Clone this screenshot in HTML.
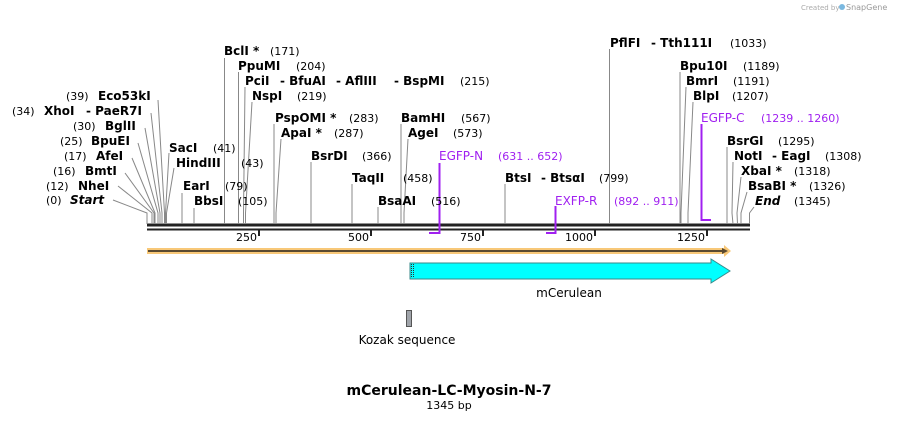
<!DOCTYPE html>
<html><head><meta charset="utf-8"><style>
html,body{margin:0;padding:0;background:#fff;width:898px;height:421px;overflow:hidden}
svg{display:block}
.b{font-family:"DejaVu Sans","Liberation Sans",sans-serif;font-weight:bold;font-size:12px;fill:#000}
.n{font-family:"DejaVu Sans","Liberation Sans",sans-serif;font-size:11px;fill:#000}
.p{font-family:"DejaVu Sans","Liberation Sans",sans-serif;font-size:12px;fill:#a020f0}
.pn{font-family:"DejaVu Sans","Liberation Sans",sans-serif;font-size:11px;fill:#a020f0}
</style></head><body>
<svg width="898" height="421" viewBox="0 0 898 421" xmlns="http://www.w3.org/2000/svg">
<text x="801" y="10" font-family="DejaVu Sans,sans-serif" font-size="7" fill="#aaa">Created by</text>
<text x="846" y="10" font-family="DejaVu Sans,sans-serif" font-size="8" fill="#999">SnapGene</text>
<circle cx="842" cy="7" r="3" fill="#7ab8e0"/>

<rect x="147" y="223.5" width="603" height="3" fill="#222"/>
<rect x="147" y="228.5" width="603" height="2" fill="#222"/>
<g stroke="#222" stroke-width="2">
<line x1="259" y1="229" x2="259" y2="236"/><line x1="371" y1="229" x2="371" y2="236"/>
<line x1="483" y1="229" x2="483" y2="236"/><line x1="595" y1="229" x2="595" y2="236"/>
<line x1="707" y1="229" x2="707" y2="236"/></g>
<g class="n" text-anchor="end">
<text x="257" y="241">250</text><text x="369" y="241">500</text><text x="481" y="241">750</text>
<text x="593" y="241">1000</text><text x="705" y="241">1250</text></g>

<g fill="none" stroke="#888" stroke-width="1">
<polyline points="113,200 147,213 147,224"/>
<polyline points="118,186 152,213 152,224"/>
<polyline points="125,173 154,213 154,224"/>
<polyline points="132,158 155,213 155,224"/>
<polyline points="138,143 158,213 158,224"/>
<polyline points="145,128 160,213 160,224"/>
<polyline points="151,113 162,213 162,224"/>
<polyline points="158,100 164.5,213 164.5,224"/>
<polyline points="169,153 165.5,213 165.5,224"/>
<polyline points="174,168 166.5,213 166.5,224"/>
<polyline points="182,193 182,224"/>
<polyline points="194,208 194,224"/>
<polyline points="224.5,58 224.5,224"/>
<polyline points="238.5,72 238.5,224"/>
<polyline points="245,87 243.5,213 243.5,224"/>
<polyline points="252,102 245.5,213 245.5,224"/>
<polyline points="274,124 274,224"/>
<polyline points="281,139 276,213 276,224"/>
<polyline points="311,162 311,224"/>
<polyline points="352,184 352,224"/>
<polyline points="378,207 378,224"/>
<polyline points="401,124 401,224"/>
<polyline points="408,139 404,213 404,224"/>
<polyline points="505,184 505,224"/>
<polyline points="609.5,49 609.5,224"/>
<polyline points="680,72 680,224"/>
<polyline points="686,87 681,213 681,224"/>
<polyline points="693,102 688,213 688,224"/>
<polyline points="727,147 727,224"/>
<polyline points="733,162 732,213 733,224"/>
<polyline points="741,177 737,213 737.5,224"/>
<polyline points="747,192 741,213 741,224"/>
<polyline points="754,207 749.5,213 749.5,224"/>
</g>
<g fill="none" stroke="#a020f0" stroke-width="2">
<polyline points="439.5,163 439.5,233 429,233"/>
<polyline points="555.5,206 555.5,233 546,233"/>
<polyline points="701.5,124 701.5,220 711,220"/>
</g>

<text class="n" x="46" y="204">(0)</text><text class="b" x="70" y="204" font-style="italic">Start</text>
<text class="n" x="46" y="190">(12)</text><text class="b" x="78" y="190">NheI</text>
<text class="n" x="53" y="175">(16)</text><text class="b" x="85" y="175">BmtI</text>
<text class="n" x="64" y="160">(17)</text><text class="b" x="96" y="160">AfeI</text>
<text class="n" x="60" y="145">(25)</text><text class="b" x="91" y="145">BpuEI</text>
<text class="n" x="73" y="130">(30)</text><text class="b" x="105" y="130">BglII</text>
<text class="n" x="12" y="115">(34)</text><text class="b" x="44" y="115">XhoI</text><text class="b" x="86" y="115">- PaeR7I</text>
<text class="n" x="66" y="100">(39)</text><text class="b" x="98" y="100">Eco53kI</text>
<text class="b" x="169" y="152">SacI</text><text class="n" x="213" y="152">(41)</text>
<text class="b" x="176" y="167">HindIII</text><text class="n" x="241" y="167">(43)</text>
<text class="b" x="183" y="190">EarI</text><text class="n" x="225" y="190">(79)</text>
<text class="b" x="194" y="205">BbsI</text><text class="n" x="238" y="205">(105)</text>
<text class="b" x="224" y="55">BclI *</text><text class="n" x="270" y="55">(171)</text>
<text class="b" x="238" y="70">PpuMI</text><text class="n" x="296" y="70">(204)</text>
<text class="b" x="245" y="85">PciI</text><text class="b" x="280" y="85">- BfuAI</text><text class="b" x="336" y="85">- AflIII</text><text class="b" x="394" y="85">- BspMI</text><text class="n" x="460" y="85">(215)</text>
<text class="b" x="252" y="100">NspI</text><text class="n" x="297" y="100">(219)</text>
<text class="b" x="275" y="122">PspOMI *</text><text class="n" x="349" y="122">(283)</text>
<text class="b" x="281" y="137">ApaI *</text><text class="n" x="334" y="137">(287)</text>
<text class="b" x="311" y="160">BsrDI</text><text class="n" x="362" y="160">(366)</text>
<text class="b" x="352" y="182">TaqII</text><text class="n" x="403" y="182">(458)</text>
<text class="b" x="378" y="205">BsaAI</text><text class="n" x="431" y="205">(516)</text>
<text class="b" x="401" y="122">BamHI</text><text class="n" x="461" y="122">(567)</text>
<text class="b" x="408" y="137">AgeI</text><text class="n" x="453" y="137">(573)</text>
<text class="p" x="439" y="160">EGFP-N</text><text class="pn" x="498" y="160">(631 .. 652)</text>
<text class="b" x="505" y="182">BtsI</text><text class="b" x="541" y="182">- BtsαI</text><text class="n" x="599" y="182">(799)</text>
<text class="p" x="555" y="205">EXFP-R</text><text class="pn" x="614" y="205">(892 .. 911)</text>
<text class="b" x="610" y="47">PflFI</text><text class="b" x="651" y="47">- Tth111I</text><text class="n" x="730" y="47">(1033)</text>
<text class="b" x="680" y="70">Bpu10I</text><text class="n" x="743" y="70">(1189)</text>
<text class="b" x="686" y="85">BmrI</text><text class="n" x="733" y="85">(1191)</text>
<text class="b" x="693" y="100">BlpI</text><text class="n" x="732" y="100">(1207)</text>
<text class="p" x="701" y="122">EGFP-C</text><text class="pn" x="761" y="122">(1239 .. 1260)</text>
<text class="b" x="727" y="145">BsrGI</text><text class="n" x="778" y="145">(1295)</text>
<text class="b" x="734" y="160">NotI</text><text class="b" x="772" y="160">- EagI</text><text class="n" x="825" y="160">(1308)</text>
<text class="b" x="741" y="175">XbaI *</text><text class="n" x="794" y="175">(1318)</text>
<text class="b" x="748" y="190">BsaBI *</text><text class="n" x="809" y="190">(1326)</text>
<text class="b" x="755" y="205" font-style="italic">End</text><text class="n" x="794" y="205">(1345)</text>

<rect x="147" y="248" width="578" height="6" fill="#f8c878"/>
<polygon points="724,245 731,251 724,257" fill="#f8c878"/>
<line x1="148" y1="251" x2="726" y2="251" stroke="#5a4a30" stroke-width="2"/>
<polygon points="722,248 728,251 722,254" fill="#5a4a30"/>

<polygon points="410,263 711,263 711,259 730,271 711,283 711,279 410,279" fill="#00ffff" stroke="#3a8a8a" stroke-width="1"/>
<line x1="411.5" y1="264" x2="411.5" y2="278" stroke="#333" stroke-dasharray="1,1"/>
<line x1="413.5" y1="264" x2="413.5" y2="278" stroke="#333" stroke-dasharray="1,1"/>
<text x="569" y="297" text-anchor="middle" font-family="DejaVu Sans,sans-serif" font-size="12">mCerulean</text>

<rect x="406.5" y="310.5" width="5" height="16" fill="#a0a4aa" stroke="#555" stroke-width="1"/>
<text x="407" y="344" text-anchor="middle" font-family="DejaVu Sans,sans-serif" font-size="12">Kozak sequence</text>

<text x="449" y="395" text-anchor="middle" font-family="DejaVu Sans,sans-serif" font-weight="bold" font-size="14">mCerulean-LC-Myosin-N-7</text>
<text x="449" y="409" text-anchor="middle" font-family="DejaVu Sans,sans-serif" font-size="11">1345 bp</text>
</svg>
</body></html>
